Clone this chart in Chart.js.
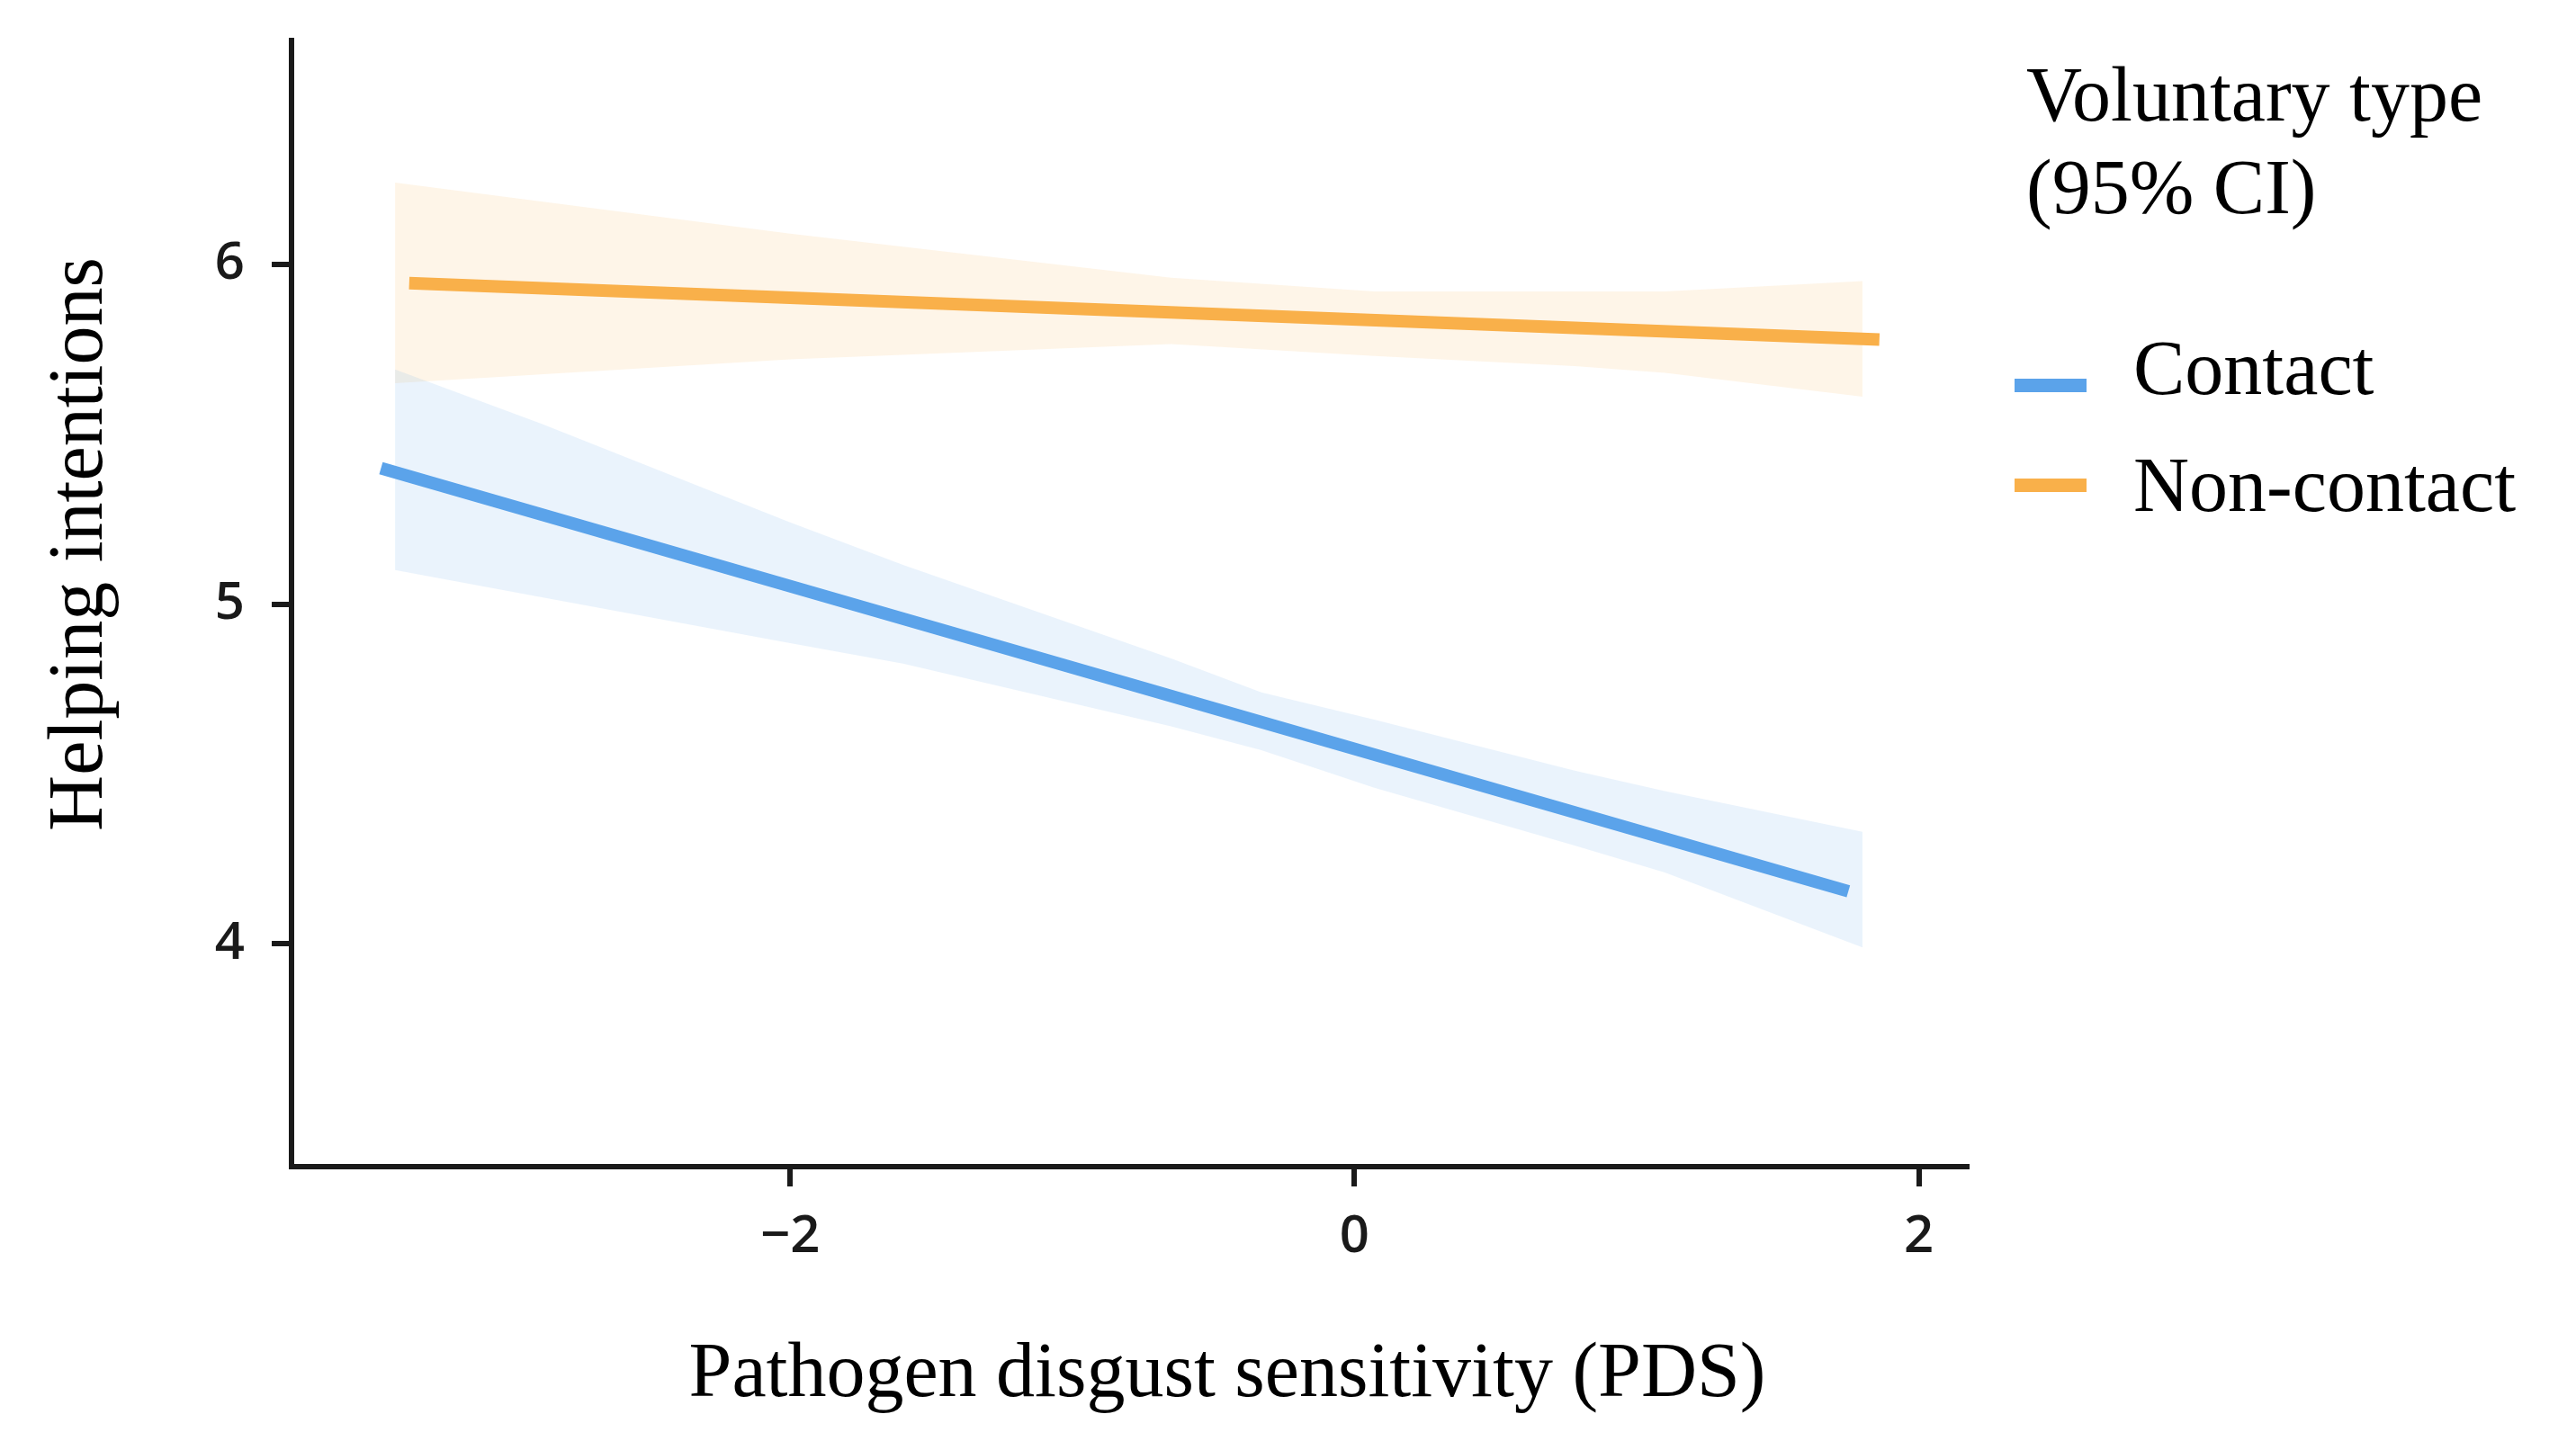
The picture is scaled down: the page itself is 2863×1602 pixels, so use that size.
<!DOCTYPE html>
<html>
<head>
<meta charset="utf-8">
<title>Helping intentions by PDS</title>
<script src="https://cdn.jsdelivr.net/npm/chart.js@4.4.1/dist/chart.umd.min.js"></script>
<style>
  html, body { margin: 0; padding: 0; background: #fff; }
  #wrap { width: 2863px; height: 1602px; position: relative; }
</style>
</head>
<body>
<div id="wrap"><canvas id="chart"></canvas></div>
<script>
// tick values
const pdsTicks = [-2, 0, 2];
const helpTicks = [4, 5, 6];

// groups (legend order)
const groups = ['Contact', 'Non-contact'];

// fitted lines
const contactLineX = [-3.45, 1.75];
const contactLineY = [5.40, 4.155];
const nonContactLineX = [-3.35, 1.86];
const nonContactLineY = [5.944, 5.778];

// 95% CI ribbons
const contactRibbonX = [-3.40, -2.88, -2.0, -1.6, -0.65, -0.33, 0.07, 0.78, 1.10, 1.80];
const contactUpper = [5.69, 5.53, 5.24, 5.115, 4.84, 4.74, 4.66, 4.51, 4.45, 4.33];
const contactLower = [5.10, 5.02, 4.885, 4.825, 4.64, 4.57, 4.46, 4.29, 4.21, 3.99];
const nonContactRibbonX = [-3.40, -2.0, -0.65, 0.07, 0.78, 1.10, 1.80];
const nonContactUpper = [6.24, 6.09, 5.96, 5.92, 5.92, 5.92, 5.95];
const nonContactLower = [5.65, 5.72, 5.765, 5.73, 5.70, 5.68, 5.61];

const BLUE = '#5ba3ea';
const ORANGE = '#f9b04a';
const BLUE_FILL = 'rgba(91, 163, 234, 0.13)';
const ORANGE_FILL = 'rgba(249, 176, 74, 0.13)';
const INK = '#1a1a1a';
const SERIF = '"Liberation Serif", "Times New Roman", serif';
const SANS = '"Open Sans", "Noto Sans", sans-serif';

const pts = (xs, ys) => xs.map((x, i) => ({ x, y: ys[i] }));
const minus = v => (v < 0 ? '\u2212' + Math.abs(v) : String(v));

// axis titles and legend, drawn after the chart
const annotations = {
  id: 'annotations',
  afterDraw(chart) {
    const ctx = chart.ctx;
    ctx.save();
    ctx.fillStyle = '#000';
    ctx.font = `86px ${SERIF}`;
    ctx.textBaseline = 'alphabetic';

    // x title
    ctx.textAlign = 'center';
    ctx.fillText('Pathogen disgust sensitivity (PDS)', 1364, 1552);

    // y title
    ctx.save();
    ctx.translate(113, 605);
    ctx.rotate(-Math.PI / 2);
    ctx.fillText('Helping intentions', 0, 0);
    ctx.restore();

    // legend
    ctx.textAlign = 'left';
    ctx.fillText('Voluntary type', 2252, 134);
    ctx.fillText('(95% CI)', 2252, 237);
    const keyColors = [BLUE, ORANGE];
    const keyY = [421, 532];
    const textY = [438, 568];
    groups.forEach((g, i) => {
      ctx.fillStyle = keyColors[i];
      ctx.fillRect(2239, keyY[i], 80, 15);
      ctx.fillStyle = '#000';
      ctx.fillText(g, 2371, textY[i]);
    });
    ctx.restore();
  }
};

const axisStyle = {
  border: { display: true, color: INK, width: 6 },
  grid: { drawOnChartArea: false, drawTicks: true, tickLength: 22, color: INK, lineWidth: 6 },
};

new Chart(document.getElementById('chart'), {
  type: 'line',
  data: {
    datasets: [
      {
        label: groups[0], data: pts(contactLineX, contactLineY),
        borderColor: BLUE, borderWidth: 14, pointRadius: 0, fill: false, order: 0,
      },
      {
        label: groups[1], data: pts(nonContactLineX, nonContactLineY),
        borderColor: ORANGE, borderWidth: 14, pointRadius: 0, fill: false, order: 0,
      },
      {
        label: 'Contact upper', data: pts(contactRibbonX, contactUpper),
        borderWidth: 0, pointRadius: 0, fill: '+1', backgroundColor: BLUE_FILL, order: 1,
      },
      {
        label: 'Contact lower', data: pts(contactRibbonX, contactLower),
        borderWidth: 0, pointRadius: 0, fill: false, order: 1,
      },
      {
        label: 'Non-contact upper', data: pts(nonContactRibbonX, nonContactUpper),
        borderWidth: 0, pointRadius: 0, fill: '+1', backgroundColor: ORANGE_FILL, order: 1,
      },
      {
        label: 'Non-contact lower', data: pts(nonContactRibbonX, nonContactLower),
        borderWidth: 0, pointRadius: 0, fill: false, order: 1,
      },
    ],
  },
  options: {
    responsive: true,
    maintainAspectRatio: false,
    animation: false,
    clip: false,
    layout: { padding: { left: 0, top: 45, right: 677, bottom: 0 } },
    plugins: {
      legend: { display: false },
      tooltip: { enabled: false },
    },
    scales: {
      x: {
        type: 'linear',
        min: -3.767,
        max: 2.17,
        ...axisStyle,
        afterBuildTicks: scale => { scale.ticks = pdsTicks.map(v => ({ value: v })); },
        afterFit: scale => {
          scale.height = 305;
          scale.paddingLeft = 0;
          scale.paddingRight = 0;
        },
        ticks: {
          padding: 22,
          color: INK,
          font: { family: SANS, size: 58, weight: 600 },
          callback: v => minus(v),
        },
      },
      y: {
        type: 'linear',
        min: 3.345,
        max: 6.658,
        ...axisStyle,
        afterBuildTicks: scale => { scale.ticks = helpTicks.map(v => ({ value: v })); },
        afterFit: scale => {
          scale.width = 324;
          scale.paddingTop = 0;
          scale.paddingBottom = 0;
        },
        ticks: {
          padding: 30,
          color: INK,
          font: { family: SANS, size: 58, weight: 600 },
          callback: v => minus(v),
        },
      },
    },
  },
  plugins: [annotations],
});
</script>
</body>
</html>
